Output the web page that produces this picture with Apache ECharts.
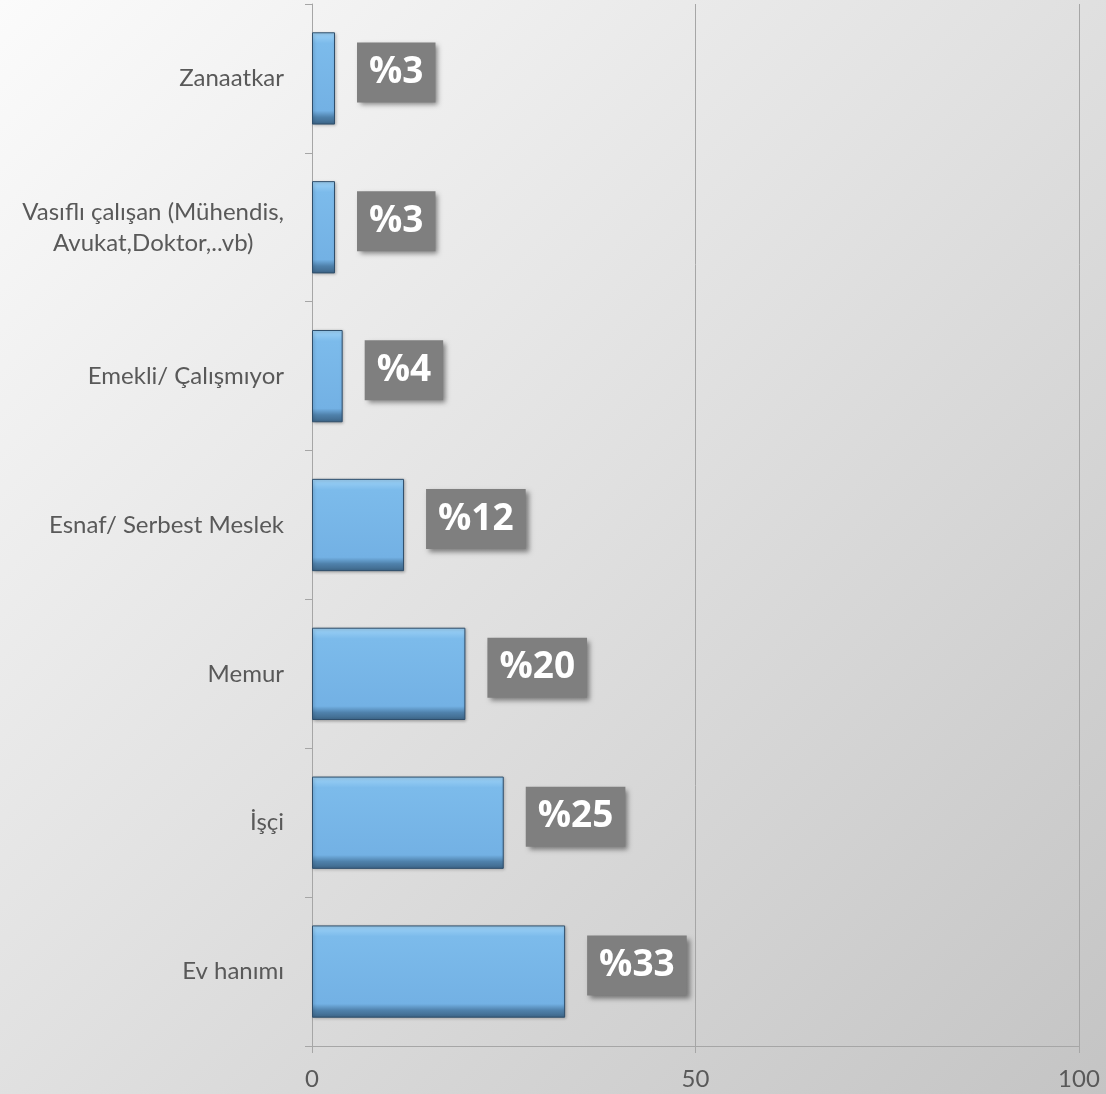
<!DOCTYPE html>
<html>
<head>
<meta charset="utf-8">
<script src="https://cdn.jsdelivr.net/npm/echarts@6/dist/echarts.min.js"></script>
<style>
  html, body { margin: 0; padding: 0; }
  #chart { width: 1106px; height: 1094px; }
</style>
</head>
<body>
<div id="chart"></div>
<script>
var categories = ['Ev hanımı', 'İşçi', 'Memur', 'Esnaf/ Serbest Meslek', 'Emekli/ Çalışmıyor', 'Vasıflı çalışan (Mühendis,\nAvukat,Doktor,..vb)', 'Zanaatkar'];
var values = [33, 25, 20, 12, 4, 3, 3];
var xTicks = [0, 50, 100];

var font = 'Lato, "Open Sans", sans-serif';
var boldFont = '"Open Sans", "DejaVu Sans", sans-serif';
var chart = echarts.init(document.getElementById('chart'), null, { renderer: 'canvas' });

chart.setOption({
  animation: false,
  backgroundColor: {
    type: 'linear', x: 0, y: 0, x2: 1, y2: 1,
    colorStops: [
      { offset: 0, color: '#fbfbfb' },
      { offset: 0.5, color: '#e0e0e0' },
      { offset: 1, color: '#c4c4c4' }
    ]
  },
  grid: { left: 312, right: 27, top: 4, bottom: 48 },
  xAxis: {
    type: 'value',
    min: xTicks[0],
    max: xTicks[xTicks.length - 1],
    interval: 50,
    axisLine: { show: true, lineStyle: { color: '#a6a6a6', width: 1 } },
    axisTick: { show: true, length: 7, lineStyle: { color: '#a6a6a6' } },
    axisLabel: { color: '#595959', fontSize: 24, fontFamily: font, margin: 21 },
    splitLine: { show: true, lineStyle: { color: '#a6a6a6', width: 1 } }
  },
  yAxis: {
    type: 'category',
    data: categories,
    axisLine: { show: true, lineStyle: { color: '#a6a6a6', width: 1 } },
    axisTick: { show: true, length: 7, lineStyle: { color: '#a6a6a6' } },
    axisLabel: {
      color: '#595959', fontSize: 24, fontFamily: font, margin: 28,
      formatter: function(v) {
        return v.split('\n').map(function(s) { return '{c|' + s + '}'; }).join('\n');
      },
      rich: { c: { align: 'center', color: '#595959', fontSize: 24, fontFamily: font, lineHeight: 31 } }
    },
    splitLine: { show: false }
  },
  series: [{
    type: 'bar',
    data: values,
    barWidth: '62%',
    itemStyle: {
      color: {
        type: 'linear', x: 0, y: 0, x2: 0, y2: 1,
        colorStops: [
          { offset: 0, color: '#9fd3f7' },
          { offset: 0.12, color: '#7cbbeb' },
          { offset: 0.85, color: '#73b1e4' },
          { offset: 0.92, color: '#4f81ab' },
          { offset: 1, color: '#3d6587' }
        ]
      },
      borderColor: '#2f4e6b',
      borderWidth: 1,
      shadowColor: 'rgba(0,0,0,0.25)',
      shadowBlur: 3,
      shadowOffsetX: 1,
      shadowOffsetY: 1
    },
    label: {
      show: true,
      position: 'right',
      distance: 22,
      offset: [0, -6],
      formatter: function(p) { return '%' + p.value; },
      color: '#ffffff',
      fontSize: 37,
      fontWeight: 'bold',
      fontFamily: boldFont,
      backgroundColor: '#7f7f7f',
      padding: [16, 12, 7, 12],
      shadowColor: 'rgba(0,0,0,0.45)',
      shadowBlur: 5,
      shadowOffsetX: 3,
      shadowOffsetY: 3
    }
  }]
});
window.addEventListener('resize', function() { chart.resize(); });
</script>
</body>
</html>
